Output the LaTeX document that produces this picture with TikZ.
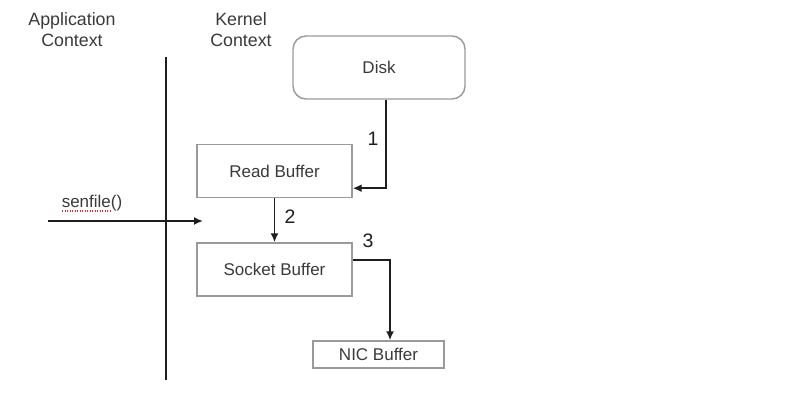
\documentclass[tikz,border=0pt]{standalone}
\usepackage{fontspec}
\setmainfont{Liberation Sans}
\usetikzlibrary{arrows.meta,calc}
\definecolor{boxgray}{HTML}{9A9A9A}
\definecolor{txt}{HTML}{3A3A3A}
\definecolor{ln}{HTML}{1E1E1E}
\definecolor{spell}{HTML}{E03030}
\begin{document}
\begin{tikzpicture}[x=1pt,y=-1pt,
  every node/.style={font=\fontsize{17}{20}\selectfont, text=txt},
  hdr/.style={font=\fontsize{17.8}{21}\selectfont, align=center},
  bufbox/.style={draw=boxgray, line width=1.4pt, fill=white, inner sep=0pt},
  conn/.style={draw=ln, line width=1.9pt, -{Latex[length=9pt,width=8pt]}},
  lbl/.style={font=\fontsize{19.5}{22}\selectfont, text=ln}]
\path[use as bounding box, fill=white] (0,0) rectangle (799,404);
% headers
\node[hdr] (app) at (72,30) {Application\\Context};
\node[hdr] (ker) at (241,30) {Kernel\\Context};
% divider
\coordinate (vtop) at (166,57);
\coordinate (vbot) at (166,380);
\draw[ln, line width=2pt] (vtop) -- (vbot);
% boxes
\node[bufbox, rounded corners=13pt, minimum width=172pt, minimum height=63pt] (disk) at (379,67.5) {Disk};
\node[bufbox, minimum width=155pt, minimum height=53pt] (read) at (274.5,171) {Read Buffer};
\node[bufbox, minimum width=155pt, minimum height=53pt] (sock) at (274.5,269.5) {Socket Buffer};
\node[bufbox, minimum width=131pt, minimum height=27pt] (nic) at (378.5,354.5) {NIC Buffer};
% senfile call
\node (call) at (92,203) {senfile()};
\draw[spell, line width=1.2pt, dash pattern=on 1.2pt off 1.3pt] (62,211) -- (110,211);
\coordinate (cstart) at (48,221);
\coordinate (cend) at (203,221);
\draw[conn] (cstart) -- (cend);
% arrow 1
\coordinate (a1s) at (disk.south -| 386,0);
\coordinate (a1e) at ($(read.south east)+(0,-10)$);
\draw[conn] (a1s) |- (a1e);
\node[lbl] (n1) at (373,139) {1};
% arrow 2
\draw[conn] (read.south) -- (sock.north);
\node[lbl] (n2) at (290,217) {2};
% arrow 3
\coordinate (a3s) at ($(sock.north east)+(0,17.5)$);
\coordinate (a3e) at (nic.north -| 390,0);
\draw[conn] (a3s) -| (a3e);
\node[lbl] (n3) at (368,241) {3};
\end{tikzpicture}
\end{document}
